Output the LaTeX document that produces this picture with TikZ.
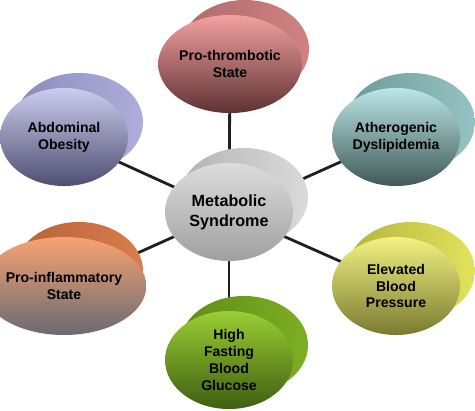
\documentclass[tikz,border=0pt]{standalone}
\usepackage{fontspec}
\setmainfont{Liberation Sans}
\usetikzlibrary{shapes.geometric,backgrounds}

% bubble colours (front top, front middle, front bottom, back left, back right)
\definecolor{ptTop}{HTML}{F4A0A0}
\definecolor{ptMid}{HTML}{D88484}
\definecolor{ptBot}{HTML}{5E3232}
\definecolor{ptBackL}{HTML}{B06A6A}
\definecolor{ptBackR}{HTML}{D08282}
\definecolor{aoTop}{HTML}{CCCCEE}
\definecolor{aoMid}{HTML}{A8A8D4}
\definecolor{aoBot}{HTML}{4E4E72}
\definecolor{aoBackL}{HTML}{8C8CBC}
\definecolor{aoBackR}{HTML}{AEAEDC}
\definecolor{adTop}{HTML}{BCE6E6}
\definecolor{adMid}{HTML}{98C4C4}
\definecolor{adBot}{HTML}{405858}
\definecolor{adBackL}{HTML}{6C9A9A}
\definecolor{adBackR}{HTML}{96C2C2}
\definecolor{msTop}{HTML}{DCDCDC}
\definecolor{msMid}{HTML}{C0C0C0}
\definecolor{msBot}{HTML}{A0A0A0}
\definecolor{msBackL}{HTML}{B4B4B4}
\definecolor{msBackR}{HTML}{DADADA}
\definecolor{piTop}{HTML}{F8A272}
\definecolor{piMid}{HTML}{E0906C}
\definecolor{piBot}{HTML}{6A6A72}
\definecolor{piBackL}{HTML}{B46238}
\definecolor{piBackR}{HTML}{DC7C4A}
\definecolor{ebTop}{HTML}{F2F282}
\definecolor{ebMid}{HTML}{D2D262}
\definecolor{ebBot}{HTML}{7A7A30}
\definecolor{ebBackL}{HTML}{B4B43C}
\definecolor{ebBackR}{HTML}{E2E25C}
\definecolor{hfTop}{HTML}{9ACE32}
\definecolor{hfMid}{HTML}{80B028}
\definecolor{hfBot}{HTML}{3E5E12}
\definecolor{hfBackL}{HTML}{5E8E16}
\definecolor{hfBackR}{HTML}{7EAE24}

\begin{document}
\begin{tikzpicture}[x=0.025cm, y=-0.025cm,
	back/.style={ellipse, minimum width=3.2cm, minimum height=2.45cm, inner sep=0pt},
	bubble/.style={ellipse, minimum width=3.2cm, minimum height=2.45cm, inner sep=0pt,
		align=center, font=\bfseries\fontsize{10}{12}\selectfont},
	spoke/.style={line width=2pt, color=black!88}]
	\useasboundingbox (0,0) rectangle (475,410);

	% back discs
	\node[back, left color=ptBackL, right color=ptBackR] (ptback) at (245,49) {};
	\node[back, left color=aoBackL, right color=aoBackR] (aoback) at (79,122) {};
	\node[back, left color=adBackL, right color=adBackR] (adback) at (411,122) {};
	\node[back, left color=msBackL, right color=msBackR] (msback) at (244,197) {};
	\node[back, left color=piBackL, right color=piBackR] (piback) at (79,271) {};
	\node[back, left color=ebBackL, right color=ebBackR] (ebback) at (411,271) {};
	\node[back, left color=hfBackL, right color=hfBackR] (hfback) at (244,345) {};

	% front discs
	\node[bubble, top color=ptTop, middle color=ptMid, bottom color=ptBot] (pt) at (230,64) {Pro-thrombotic\\State};
	\node[bubble, top color=aoTop, middle color=aoMid, bottom color=aoBot] (ao) at (64,137) {Abdominal\\Obesity};
	\node[bubble, top color=adTop, middle color=adMid, bottom color=adBot] (ad) at (396,137) {Atherogenic\\Dyslipidemia};
	\node[bubble, top color=msTop, middle color=msMid, bottom color=msBot,
		font=\bfseries\fontsize{11.5}{14}\selectfont] (ms) at (229,212) {Metabolic\\Syndrome};
	\node[bubble, top color=piTop, middle color=piMid, bottom color=piBot] (pi) at (64,286) {Pro-inflammatory\\State};
	\node[bubble, top color=ebTop, middle color=ebMid, bottom color=ebBot] (eb) at (396,286) {Elevated\\Blood\\Pressure};
	\node[bubble, top color=hfTop, middle color=hfMid, bottom color=hfBot] (hf) at (229,360) {High\\Fasting\\Blood\\Glucose};

	% spokes behind everything
	\begin{pgfonlayer}{background}
		\foreach \n in {pt,ao,ad,pi,eb,hf} {
			\draw[spoke] (ms.center) -- (\n.center);
		}
	\end{pgfonlayer}
\end{tikzpicture}
\end{document}
